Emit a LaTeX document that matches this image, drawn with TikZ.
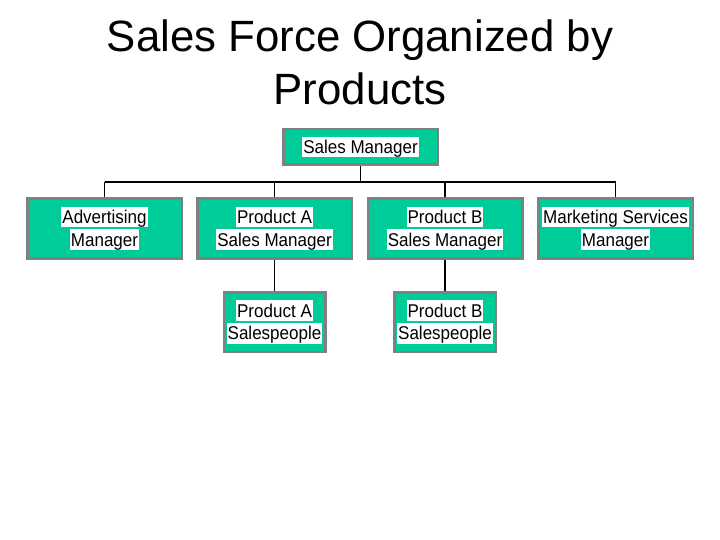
\documentclass[tikz,border=0pt]{standalone}
\usepackage{fontspec}
\setmainfont{Liberation Sans}
\newfontfamily\boxfont[FakeStretch=0.92]{Liberation Sans}
\usetikzlibrary{backgrounds}
\definecolor{tealfill}{RGB}{0,204,153}
\definecolor{edgegray}{RGB}{128,128,128}
\newcommand\hlt[1]{{\setlength\fboxsep{0pt}\colorbox{white}{\rule[-3.9pt]{0pt}{20.6pt}\hspace{1pt}#1\hspace{1pt}}}}
\begin{document}
\begin{tikzpicture}[x=1pt,y=-1pt,
  orgbox/.style={draw=edgegray, line width=2.5pt, fill=tealfill, inner sep=0pt,
    align=center, text=black, font=\boxfont\fontsize{18.5}{22.6}\selectfont},
  widebox/.style={orgbox, minimum width=154.5pt, minimum height=59.5pt},
  smallbox/.style={orgbox, minimum width=101.5pt, minimum height=59.5pt},
  link/.style={draw=black, line width=1.2pt},
  titletext/.style={font=\fontsize{43.8}{53}\selectfont, inner sep=0pt, anchor=base}]
\useasboundingbox (0,0) rectangle (720,540);

\node[titletext] (t1) at (360,52) {Sales Force Organized by};
\node[titletext] (t2) at (360,105) {Products};

\node[orgbox, minimum width=154.5pt, minimum height=35.5pt] (sm) at (360.5,147) {\hlt{Sales Manager}};

\node[widebox] (adv)  at (104.5,228.5) {\hlt{Advertising}\\\hlt{Manager}};
\node[widebox] (pasm) at (274.5,228.5) {\hlt{Product A}\\\hlt{Sales Manager}};
\node[widebox] (pbsm) at (445,228.5)   {\hlt{Product B}\\\hlt{Sales Manager}};
\node[widebox] (msm)  at (615.5,228.5) {\hlt{Marketing Services}\\\hlt{Manager}};

\node[smallbox] (psa) at (274.5,322) {\hlt{Product A}\\\hlt{Salespeople}};
\node[smallbox] (psb) at (445,322)   {\hlt{Product B}\\\hlt{Salespeople}};

\coordinate (bus) at (360,182);

\begin{pgfonlayer}{background}
\fill[white] (0,0) rectangle (720,540);
\draw[link] (sm.south) -- (sm.south |- bus);
\draw[link] (adv.north |- bus) -- (msm.north |- bus);
\draw[link] (adv.north |- bus) -- (adv.north);
\draw[link] (pasm.north |- bus) -- (pasm.north);
\draw[link] (pbsm.north |- bus) -- (pbsm.north);
\draw[link] (msm.north |- bus) -- (msm.north);
\draw[link] (pasm.south) -- (pasm.south |- psa.north);
\draw[link] (pbsm.south) -- (pbsm.south |- psb.north);
\end{pgfonlayer}
\end{tikzpicture}
\end{document}
